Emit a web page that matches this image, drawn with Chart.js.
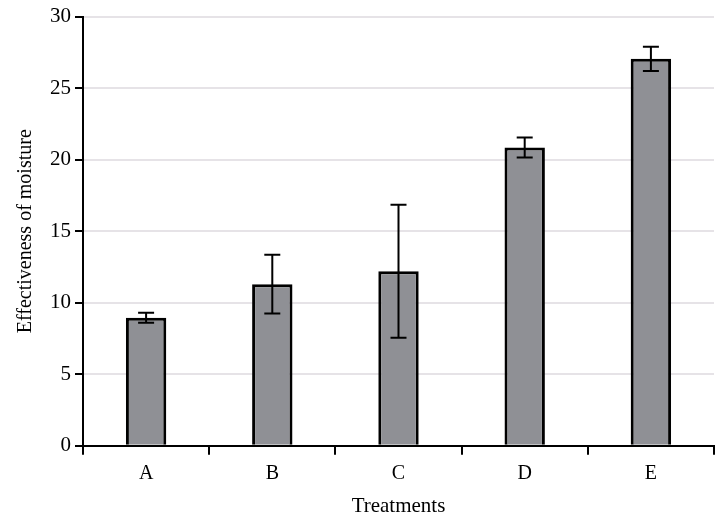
<!DOCTYPE html>
<html>
<head>
<meta charset="utf-8">
<script src="https://cdn.jsdelivr.net/npm/chart.js@4.4.0/dist/chart.umd.min.js"></script>
<style>
  html, body { margin: 0; padding: 0; background: #fff; }
  #wrap { width: 722px; height: 517px; }
</style>
</head>
<body>
<div id="wrap"><canvas id="moistureChart"></canvas></div>
<script>
const treatments = ['A', 'B', 'C', 'D', 'E'];
const effectiveness = [8.95, 11.3, 12.2, 20.85, 27.05];
const errorSize = [0.35, 2.05, 4.65, 0.7, 0.85];
const yTicks = [0, 5, 10, 15, 20, 25, 30];

// draws the error bars from the data above through the scales
const errorBars = {
    id: 'errorBars',
    afterDatasetsDraw(chart)
    {
        const ctx = chart.ctx;
        const meta = chart.getDatasetMeta(0);
        const y = chart.scales.y;
        ctx.save();
        ctx.strokeStyle = '#000';
        ctx.lineWidth = 2;
        meta.data.forEach((bar, i) =>
        {
            const top = y.getPixelForValue(effectiveness[i] + errorSize[i]);
            const bottom = y.getPixelForValue(effectiveness[i] - errorSize[i]);
            const x = bar.x;
            ctx.beginPath();
            ctx.moveTo(x, top);
            ctx.lineTo(x, bottom);
            ctx.moveTo(x - 8, top);
            ctx.lineTo(x + 8, top);
            ctx.moveTo(x - 8, bottom);
            ctx.lineTo(x + 8, bottom);
            ctx.stroke();
        });
        ctx.restore();
    }
};

Chart.defaults.font.family = '"Liberation Serif", "Times New Roman", serif';
Chart.defaults.color = '#000';

new Chart(document.getElementById('moistureChart'),
{
    type: 'bar',
    data:
    {
        labels: treatments,
        datasets: [
            {
                label: 'Effectiveness of moisture',
                data: effectiveness,
                backgroundColor: '#8f9095',
                borderColor: '#000',
                borderWidth: 3,
                barPercentage: 0.32,
                categoryPercentage: 1
            }
        ]
    },
    options:
    {
        responsive: true,
        maintainAspectRatio: false,
        animation: false,
        layout: { padding: { top: 2, right: 8, left: 10, bottom: -2 } },
        plugins:
        {
            legend: { display: false },
            tooltip: { enabled: false }
        },
        scales:
        {
            x:
            {
                offset: true,
                grid:
                {
                    offset: true,
                    drawOnChartArea: false,
                    color: '#000',
                    tickLength: 9,
                    lineWidth: 2
                },
                border: { color: '#000', width: 2 },
                ticks: { font: { size: 20 }, padding: 7 },
                title:
                {
                    display: true,
                    text: 'Treatments',
                    font: { size: 21 },
                    padding: { top: 1, bottom: 0 }
                }
            },
            y:
            {
                min: 0,
                max: 30,
                afterBuildTicks(axis)
                {
                    axis.ticks = yTicks.map(v => ({ value: v }));
                },
                grid:
                {
                    color: '#e6e3e7',
                    tickColor: '#000',
                    tickLength: 8,
                    lineWidth: 2
                },
                border: { color: '#000', width: 2 },
                ticks: { font: { size: 21 }, padding: 4 },
                title:
                {
                    display: true,
                    text: 'Effectiveness of moisture',
                    font: { size: 20 },
                    padding: { bottom: 8 }
                }
            }
        }
    },
    plugins: [errorBars]
});
</script>
</body>
</html>
